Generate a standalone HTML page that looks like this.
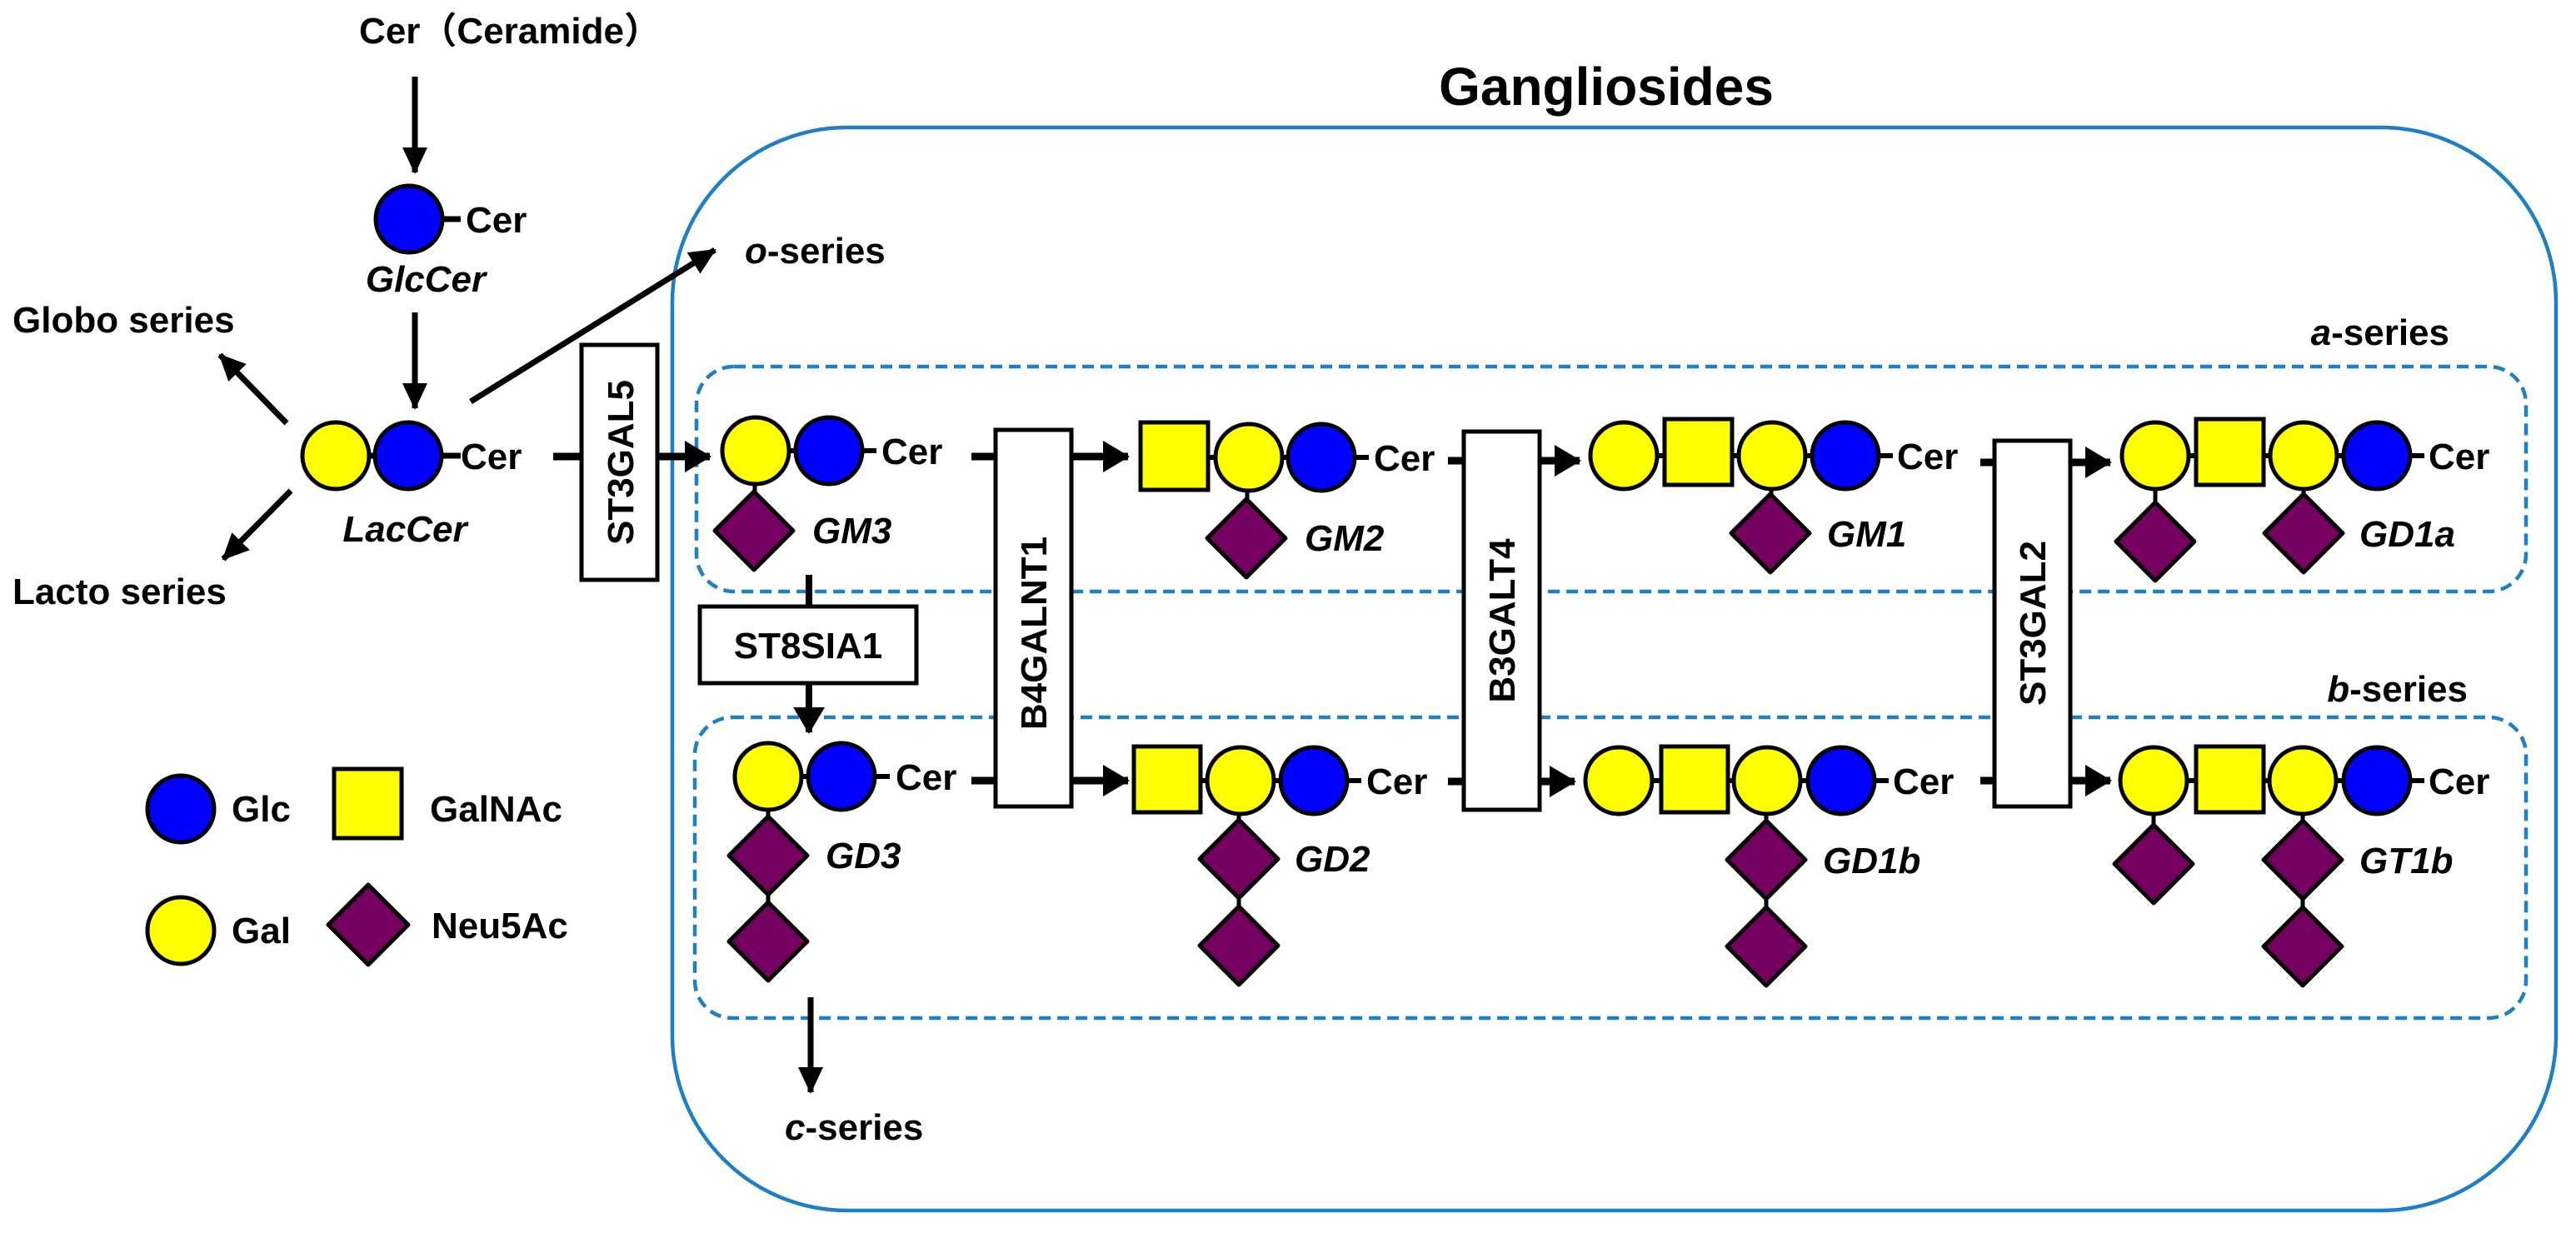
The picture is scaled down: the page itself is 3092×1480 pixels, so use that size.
<!DOCTYPE html>
<html><head><meta charset="utf-8"><style>
html,body{margin:0;padding:0;background:#fff;}
svg{display:block;}
text{font-family:"Liberation Sans","Noto Sans CJK JP",sans-serif;font-weight:bold;fill:#000;}
.i{font-style:italic;}
</style></head><body>
<svg width="3092" height="1480" viewBox="0 0 3092 1480" xmlns="http://www.w3.org/2000/svg">
<defs>
<marker id="ah" markerUnits="userSpaceOnUse" markerWidth="34" markerHeight="34" refX="30" refY="17" orient="auto"><path d="M0,2 L32,17 L0,32 Z" fill="#000"/></marker>
<marker id="ah2" markerUnits="userSpaceOnUse" markerWidth="32" markerHeight="38" refX="30" refY="19" orient="auto"><path d="M0,0 L32,19 L0,38 Z" fill="#000"/></marker>
</defs>

<!-- big box -->
<rect x="807" y="153" width="2261" height="1300" rx="210" ry="210" fill="none" stroke="#1f7fc4" stroke-width="4.5"/>
<text x="1928" y="126" font-size="64" text-anchor="middle">Gangliosides</text>

<!-- dashed boxes -->
<rect x="836" y="440" width="2196" height="270" rx="45" fill="none" stroke="#1f7fc4" stroke-width="4.5" stroke-dasharray="14 8"/>
<rect x="834" y="861" width="2198" height="361" rx="45" fill="none" stroke="#1f7fc4" stroke-width="4.5" stroke-dasharray="14 8"/>
<text x="2940" y="414" font-size="44" text-anchor="end"><tspan class="i">a</tspan>-series</text>
<text x="2962" y="842" font-size="44" text-anchor="end"><tspan class="i">b</tspan>-series</text>

<!-- left column -->
<text x="612" y="52" font-size="44" text-anchor="middle">Cer（Ceramide）</text>
<line x1="498" y1="92" x2="498" y2="207" stroke="#000" stroke-width="7" marker-end="url(#ah)"/>
<line x1="531" y1="263" x2="553" y2="263" stroke="#000" stroke-width="7"/>
<circle cx="491" cy="263" r="40" fill="#0000ff" stroke="#000" stroke-width="5"/>
<text x="559" y="279" font-size="44">Cer</text>
<text x="511" y="350" font-size="44" class="i" text-anchor="middle">GlcCer</text>
<line x1="498" y1="375" x2="498" y2="490" stroke="#000" stroke-width="7" marker-end="url(#ah)"/>

<line x1="403" y1="547" x2="553" y2="547" stroke="#000" stroke-width="7"/>
<circle cx="403" cy="547" r="40" fill="#ffff00" stroke="#000" stroke-width="5"/>
<circle cx="490" cy="547" r="40" fill="#0000ff" stroke="#000" stroke-width="5"/>
<text x="553" y="563" font-size="44">Cer</text>
<text x="486" y="650" font-size="44" class="i" text-anchor="middle">LacCer</text>

<line x1="344" y1="508" x2="264" y2="426" stroke="#000" stroke-width="7" marker-end="url(#ah)"/>
<text x="15" y="399" font-size="44">Globo series</text>
<line x1="349" y1="589" x2="268" y2="671" stroke="#000" stroke-width="7" marker-end="url(#ah)"/>
<text x="15" y="725" font-size="44">Lacto series</text>
<line x1="565" y1="482" x2="858" y2="300" stroke="#000" stroke-width="7" marker-end="url(#ah)"/>
<text x="894" y="316" font-size="44"><tspan class="i">o</tspan>-series</text>

<!-- ST3GAL5 -->
<line x1="664" y1="548" x2="698" y2="548" stroke="#000" stroke-width="9"/>
<line x1="789" y1="548" x2="852" y2="548" stroke="#000" stroke-width="9" marker-end="url(#ah2)"/>
<rect x="698" y="414" width="91" height="282" fill="#fff" stroke="#000" stroke-width="5"/>
<text transform="translate(760,555) rotate(-90)" font-size="44" text-anchor="middle">ST3GAL5</text>

<!-- GM3 -->
<line x1="907" y1="541" x2="1052" y2="541" stroke="#000" stroke-width="6"/>
<line x1="906" y1="560" x2="906" y2="630" stroke="#000" stroke-width="5"/>
<circle cx="907" cy="541" r="40" fill="#ffff00" stroke="#000" stroke-width="5"/>
<circle cx="995" cy="541" r="40" fill="#0000ff" stroke="#000" stroke-width="5"/>
<polygon points="905,590 952,637 905,684 858,637" fill="#75005f" stroke="#000" stroke-width="5" stroke-linejoin="round"/>
<text x="1058" y="557" font-size="44">Cer</text>
<text x="975" y="652" font-size="44" class="i">GM3</text>

<!-- ST8SIA1 -->
<line x1="971" y1="690" x2="971" y2="730" stroke="#000" stroke-width="8"/>
<rect x="840" y="728" width="260" height="92" fill="#fff" stroke="#000" stroke-width="5"/>
<text x="970" y="790" font-size="44" text-anchor="middle">ST8SIA1</text>
<line x1="971" y1="820" x2="971" y2="879" stroke="#000" stroke-width="8" marker-end="url(#ah2)"/>

<!-- GD3 -->
<line x1="922" y1="932" x2="1068" y2="932" stroke="#000" stroke-width="6"/>
<line x1="922" y1="950" x2="922" y2="1120" stroke="#000" stroke-width="5"/>
<circle cx="922" cy="932" r="40" fill="#ffff00" stroke="#000" stroke-width="5"/>
<circle cx="1010" cy="932" r="40" fill="#0000ff" stroke="#000" stroke-width="5"/>
<polygon points="922,980 969,1027 922,1074 875,1027" fill="#75005f" stroke="#000" stroke-width="5" stroke-linejoin="round"/>
<polygon points="922,1083 969,1130 922,1177 875,1130" fill="#75005f" stroke="#000" stroke-width="5" stroke-linejoin="round"/>
<text x="1075" y="948" font-size="44">Cer</text>
<text x="991" y="1042" font-size="44" class="i">GD3</text>

<line x1="973" y1="1197" x2="973" y2="1311" stroke="#000" stroke-width="7" marker-end="url(#ah)"/>
<text x="942" y="1368" font-size="44"><tspan class="i">c</tspan>-series</text>

<!-- B4GALNT1 -->
<line x1="1166" y1="937" x2="1195" y2="937" stroke="#000" stroke-width="9"/>
<line x1="1286" y1="937" x2="1354" y2="937" stroke="#000" stroke-width="9" marker-end="url(#ah2)"/>
<line x1="1286" y1="548" x2="1354" y2="548" stroke="#000" stroke-width="9" marker-end="url(#ah2)"/>
<line x1="1166" y1="548" x2="1195" y2="548" stroke="#000" stroke-width="9"/>
<rect x="1195" y="516" width="91" height="452" fill="#fff" stroke="#000" stroke-width="5"/>
<text transform="translate(1256,760) rotate(-90)" font-size="44" text-anchor="middle">B4GALNT1</text>

<!-- GM2 -->
<line x1="1420" y1="549" x2="1643" y2="549" stroke="#000" stroke-width="6"/>
<line x1="1497" y1="570" x2="1497" y2="620" stroke="#000" stroke-width="5"/>
<rect x="1369" y="507" width="81" height="81" fill="#ffff00" stroke="#000" stroke-width="5"/>
<circle cx="1499" cy="549" r="40" fill="#ffff00" stroke="#000" stroke-width="5"/>
<circle cx="1586" cy="549" r="40" fill="#0000ff" stroke="#000" stroke-width="5"/>
<polygon points="1496,599 1543,646 1496,693 1449,646" fill="#75005f" stroke="#000" stroke-width="5" stroke-linejoin="round"/>
<text x="1649" y="565" font-size="44">Cer</text>
<text x="1566" y="661" font-size="44" class="i">GM2</text>

<!-- GD2 -->
<line x1="1410" y1="937" x2="1634" y2="937" stroke="#000" stroke-width="6"/>
<line x1="1487" y1="960" x2="1487" y2="1120" stroke="#000" stroke-width="5"/>
<rect x="1361" y="896" width="80" height="79" fill="#ffff00" stroke="#000" stroke-width="5"/>
<circle cx="1489" cy="937" r="40" fill="#ffff00" stroke="#000" stroke-width="5"/>
<circle cx="1577" cy="937" r="40" fill="#0000ff" stroke="#000" stroke-width="5"/>
<polygon points="1487,984 1534,1031 1487,1078 1440,1031" fill="#75005f" stroke="#000" stroke-width="5" stroke-linejoin="round"/>
<polygon points="1487,1088 1534,1135 1487,1182 1440,1135" fill="#75005f" stroke="#000" stroke-width="5" stroke-linejoin="round"/>
<text x="1640" y="953" font-size="44">Cer</text>
<text x="1554" y="1046" font-size="44" class="i">GD2</text>

<!-- B3GALT4 -->
<line x1="1738" y1="553" x2="1757" y2="553" stroke="#000" stroke-width="9"/>
<line x1="1738" y1="938" x2="1757" y2="938" stroke="#000" stroke-width="9"/>
<line x1="1848" y1="553" x2="1896" y2="553" stroke="#000" stroke-width="9" marker-end="url(#ah2)"/>
<line x1="1848" y1="938" x2="1890" y2="938" stroke="#000" stroke-width="9" marker-end="url(#ah2)"/>
<rect x="1757" y="518" width="91" height="454" fill="#fff" stroke="#000" stroke-width="5"/>
<text transform="translate(1818,745) rotate(-90)" font-size="44" text-anchor="middle">B3GALT4</text>

<!-- GM1 -->
<line x1="1949" y1="547" x2="2272" y2="547" stroke="#000" stroke-width="6"/>
<line x1="2126" y1="570" x2="2126" y2="610" stroke="#000" stroke-width="5"/>
<circle cx="1949" cy="547" r="40" fill="#ffff00" stroke="#000" stroke-width="5"/>
<rect x="1998" y="503" width="81" height="79" fill="#ffff00" stroke="#000" stroke-width="5"/>
<circle cx="2127" cy="547" r="40" fill="#ffff00" stroke="#000" stroke-width="5"/>
<circle cx="2215" cy="547" r="40" fill="#0000ff" stroke="#000" stroke-width="5"/>
<polygon points="2125,593 2172,640 2125,687 2078,640" fill="#75005f" stroke="#000" stroke-width="5" stroke-linejoin="round"/>
<text x="2277" y="563" font-size="44">Cer</text>
<text x="2193" y="656" font-size="44" class="i">GM1</text>

<!-- GD1b -->
<line x1="1943" y1="937" x2="2267" y2="937" stroke="#000" stroke-width="6"/>
<line x1="2120" y1="960" x2="2120" y2="1120" stroke="#000" stroke-width="5"/>
<circle cx="1943" cy="937" r="40" fill="#ffff00" stroke="#000" stroke-width="5"/>
<rect x="1994" y="896" width="80" height="79" fill="#ffff00" stroke="#000" stroke-width="5"/>
<circle cx="2121" cy="937" r="40" fill="#ffff00" stroke="#000" stroke-width="5"/>
<circle cx="2210" cy="937" r="40" fill="#0000ff" stroke="#000" stroke-width="5"/>
<polygon points="2120,985 2167,1032 2120,1079 2073,1032" fill="#75005f" stroke="#000" stroke-width="5" stroke-linejoin="round"/>
<polygon points="2120,1089 2167,1136 2120,1183 2073,1136" fill="#75005f" stroke="#000" stroke-width="5" stroke-linejoin="round"/>
<text x="2272" y="953" font-size="44">Cer</text>
<text x="2188" y="1048" font-size="44" class="i">GD1b</text>

<!-- ST3GAL2 -->
<line x1="2377" y1="555" x2="2394" y2="555" stroke="#000" stroke-width="9"/>
<line x1="2377" y1="937" x2="2394" y2="937" stroke="#000" stroke-width="9"/>
<line x1="2485" y1="555" x2="2533" y2="555" stroke="#000" stroke-width="9" marker-end="url(#ah2)"/>
<line x1="2485" y1="937" x2="2533" y2="937" stroke="#000" stroke-width="9" marker-end="url(#ah2)"/>
<rect x="2394" y="529" width="91" height="439" fill="#fff" stroke="#000" stroke-width="5"/>
<text transform="translate(2455,748) rotate(-90)" font-size="44" text-anchor="middle">ST3GAL2</text>

<!-- GD1a -->
<line x1="2587" y1="547" x2="2910" y2="547" stroke="#000" stroke-width="6"/>
<line x1="2587" y1="570" x2="2587" y2="620" stroke="#000" stroke-width="5"/>
<line x1="2765" y1="570" x2="2765" y2="610" stroke="#000" stroke-width="5"/>
<circle cx="2587" cy="547" r="40" fill="#ffff00" stroke="#000" stroke-width="5"/>
<rect x="2636" y="503" width="81" height="79" fill="#ffff00" stroke="#000" stroke-width="5"/>
<circle cx="2765" cy="547" r="40" fill="#ffff00" stroke="#000" stroke-width="5"/>
<circle cx="2853" cy="547" r="40" fill="#0000ff" stroke="#000" stroke-width="5"/>
<polygon points="2587,603 2634,650 2587,697 2540,650" fill="#75005f" stroke="#000" stroke-width="5" stroke-linejoin="round"/>
<polygon points="2765,593 2812,640 2765,687 2718,640" fill="#75005f" stroke="#000" stroke-width="5" stroke-linejoin="round"/>
<text x="2915" y="563" font-size="44">Cer</text>
<text x="2832" y="656" font-size="44" class="i">GD1a</text>

<!-- GT1b -->
<line x1="2585" y1="937" x2="2910" y2="937" stroke="#000" stroke-width="6"/>
<line x1="2585" y1="960" x2="2585" y2="1010" stroke="#000" stroke-width="5"/>
<line x1="2764" y1="960" x2="2764" y2="1120" stroke="#000" stroke-width="5"/>
<circle cx="2585" cy="937" r="40" fill="#ffff00" stroke="#000" stroke-width="5"/>
<rect x="2636" y="896" width="81" height="79" fill="#ffff00" stroke="#000" stroke-width="5"/>
<circle cx="2764" cy="937" r="40" fill="#ffff00" stroke="#000" stroke-width="5"/>
<circle cx="2853" cy="937" r="40" fill="#0000ff" stroke="#000" stroke-width="5"/>
<polygon points="2585,990 2632,1037 2585,1084 2538,1037" fill="#75005f" stroke="#000" stroke-width="5" stroke-linejoin="round"/>
<polygon points="2764,985 2811,1032 2764,1079 2717,1032" fill="#75005f" stroke="#000" stroke-width="5" stroke-linejoin="round"/>
<polygon points="2764,1089 2811,1136 2764,1183 2717,1136" fill="#75005f" stroke="#000" stroke-width="5" stroke-linejoin="round"/>
<text x="2915" y="953" font-size="44">Cer</text>
<text x="2832" y="1048" font-size="44" class="i">GT1b</text>

<!-- legend -->
<circle cx="217" cy="971" r="40" fill="#0000ff" stroke="#000" stroke-width="5"/>
<text x="278" y="986" font-size="44">Glc</text>
<rect x="401" y="923" width="81" height="83" fill="#ffff00" stroke="#000" stroke-width="5"/>
<text x="516" y="986" font-size="44">GalNAc</text>
<circle cx="217" cy="1117" r="40" fill="#ffff00" stroke="#000" stroke-width="5"/>
<text x="278" y="1132" font-size="44">Gal</text>
<polygon points="442,1062 490,1110 442,1158 394,1110" fill="#75005f" stroke="#000" stroke-width="5" stroke-linejoin="round"/>
<text x="518" y="1126" font-size="44">Neu5Ac</text>
</svg>
</body></html>
